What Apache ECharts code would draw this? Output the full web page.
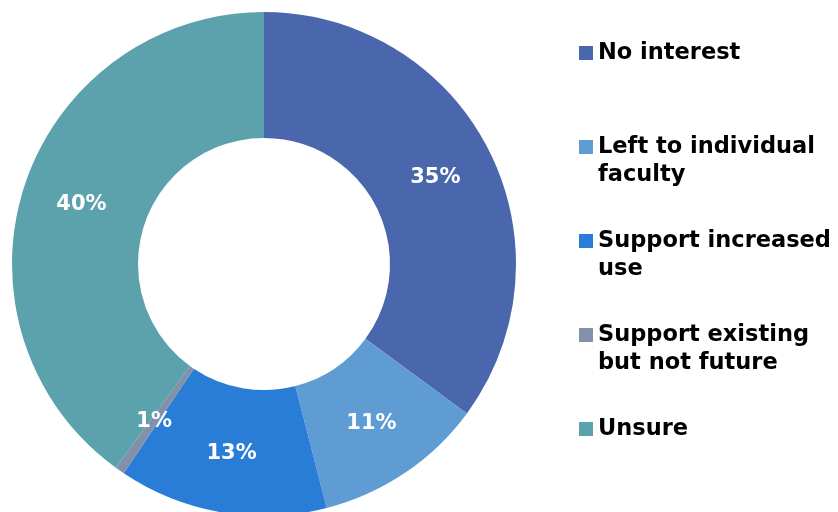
<!DOCTYPE html>
<html>
<head>
<meta charset="utf-8">
<script src="https://cdn.jsdelivr.net/npm/echarts@6/dist/echarts.min.js"></script>
<style>html,body{margin:0;padding:0;background:#fff;}#c{width:838px;height:512px;}</style>
</head>
<body>
<div id="c"></div>
<script>
var categories = ['No interest', 'Left to individual faculty', 'Support increased use', 'Support existing but not future', 'Unsure'];
var legendLabels = ['No interest', 'Left to individual\nfaculty', 'Support increased\nuse', 'Support existing\nbut not future', 'Unsure'];
var values = [35.1, 10.9, 13.4, 0.6, 40.0];
var colors = ['#4A67AD', '#5E9CD3', '#2A7DD6', '#8290AA', '#5BA2AC'];

var chart = echarts.init(document.getElementById('c'));
var data = categories.map(function (c, i) {
  return { name: c, value: values[i], itemStyle: { color: colors[i] } };
});
chart.setOption({
  animation: false,
  legend: {
    orient: 'vertical',
    left: 574,
    top: 6,
    itemGap: 10,
    icon: 'rect',
    itemWidth: 14,
    itemHeight: 14,
    data: categories,
    formatter: function (name) {
      var t = legendLabels[categories.indexOf(name)];
      var lines = t.split('\n');
      return ' \n' + lines[0] + '\n' + (lines[1] || ' ');
    },
    textStyle: {
      fontFamily: 'DejaVu Sans',
      fontWeight: 'bold',
      fontSize: 22.5,
      lineHeight: 28,
      color: '#000'
    }
  },
  series: [{
    type: 'pie',
    center: [264, 264],
    radius: [126, 252],
    startAngle: 90,
    clockwise: true,
    data: data,
    label: {
      show: true,
      position: 'inside',
      formatter: function (p) { return Math.round(p.value) + '%'; },
      color: '#fff',
      fontFamily: 'DejaVu Sans',
      fontWeight: 'bold',
      fontSize: 21
    },
    labelLine: { show: false },
    emphasis: { disabled: true }
  }]
});
</script>
</body>
</html>
